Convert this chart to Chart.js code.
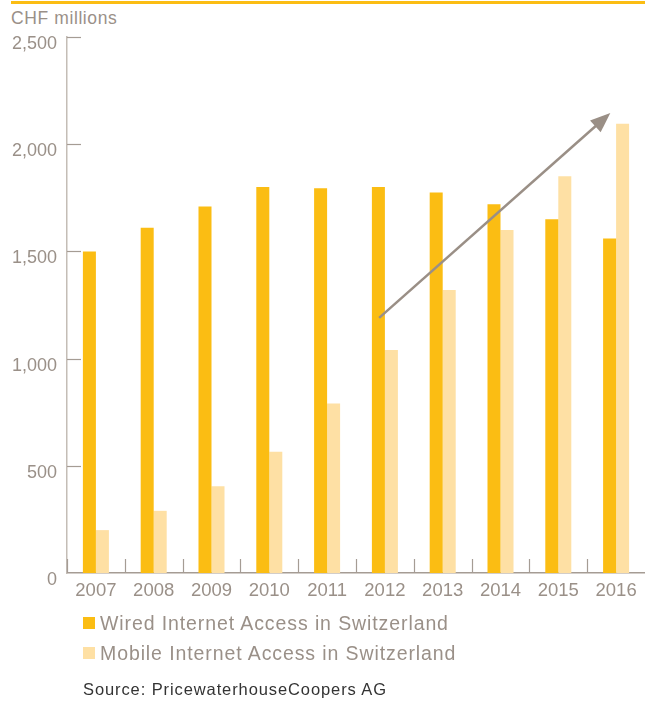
<!DOCTYPE html>
<html>
<head>
<meta charset="utf-8">
<script src="https://cdn.jsdelivr.net/npm/chart.js@4.4.1/dist/chart.umd.min.js"></script>
<style>
  body { margin: 0; background: #fff; font-family: "Liberation Sans", Arial, sans-serif; }
  #wrap { position: relative; width: 645px; height: 702px; overflow: hidden; }
  #topline { position: absolute; left: 11px; top: 1px; width: 634px; height: 3px; background: #fbbd13; }
  #unit { position: absolute; left: 11px; top: 8px; font-size: 17.5px; letter-spacing: 0.6px; color: #9a9088; }
  #chartBox { position: absolute; left: 0; top: 0; width: 645px; height: 702px; }
  .leg { position: absolute; left: 83px; font-size: 19.5px; letter-spacing: 0.9px; color: #9a9088; white-space: nowrap; }
  .leg span { display: inline-block; width: 12px; height: 12px; margin-right: 5px; vertical-align: 1px; }
  #source { position: absolute; left: 83px; top: 680px; font-size: 16.5px; letter-spacing: 0.9px; color: #333; }
</style>
</head>
<body>
<div id="wrap">
  <div id="topline"></div>
  <div id="unit">CHF millions</div>
  <div id="chartBox"><canvas id="chart"></canvas></div>
  <div class="leg" style="top:612px"><span style="background:#fbbd13"></span>Wired Internet Access in Switzerland</div>
  <div class="leg" style="top:642px"><span style="background:#fee0a4"></span>Mobile Internet Access in Switzerland</div>
  <div id="source">Source: PricewaterhouseCoopers AG</div>
</div>
<script>
// data
const years = ["2007","2008","2009","2010","2011","2012","2013","2014","2015","2016"];
const wired = [1500, 1610, 1710, 1800, 1795, 1800, 1775, 1720, 1650, 1560];
const mobile = [200, 290, 405, 565, 790, 1040, 1320, 1600, 1850, 2095];
const yTicks = [0, 500, 1000, 1500, 2000, 2500];
// trend arrow: [category index, value] start and tip
const arrowFrom = [4.9, 1190];
const arrowTo = [8.9, 2145];

const WIRED = "#fbbd13";
const MOBILE = "#fee0a4";
const AXIS = "#a59c94";
const TEXT = "#9a9088";

// short ticks drawn inside the plot area, plus the trend arrow
const extras = {
  id: "extras",
  afterDatasetsDraw(chart) {
    const ctx = chart.ctx;
    const x = chart.scales.x;
    const y = chart.scales.y;
    const area = chart.chartArea;
    ctx.save();
    ctx.strokeStyle = AXIS;
    ctx.lineWidth = 1.2;
    // y ticks
    y.ticks.forEach(t => {
      if (t.value === 0) return;
      const py = Math.round(y.getPixelForValue(t.value)) + 0.5;
      ctx.beginPath();
      ctx.moveTo(area.left, py);
      ctx.lineTo(area.left + 14, py);
      ctx.stroke();
    });
    // x category boundaries
    const w = x.getPixelForTick(1) - x.getPixelForTick(0);
    for (let i = 0; i < years.length; i++) {
      const px = Math.round(x.getPixelForTick(i) - w / 2) + 0.5;
      ctx.beginPath();
      ctx.moveTo(px, area.bottom);
      ctx.lineTo(px, area.bottom - 14);
      ctx.stroke();
    }
    // arrow
    const x0 = x.getPixelForValue(arrowFrom[0]);
    const y0 = y.getPixelForValue(arrowFrom[1]);
    const x1 = x.getPixelForValue(arrowTo[0]);
    const y1 = y.getPixelForValue(arrowTo[1]);
    const ang = Math.atan2(y1 - y0, x1 - x0);
    const head = 20, half = 8;
    const bx = x1 - head * Math.cos(ang);
    const by = y1 - head * Math.sin(ang);
    ctx.strokeStyle = "#9a8f86";
    ctx.fillStyle = "#9a8f86";
    ctx.lineWidth = 2.5;
    ctx.beginPath();
    ctx.moveTo(x0, y0);
    ctx.lineTo(bx + 2 * Math.cos(ang), by + 2 * Math.sin(ang));
    ctx.stroke();
    ctx.beginPath();
    ctx.moveTo(x1, y1);
    ctx.lineTo(bx - half * Math.sin(ang), by + half * Math.cos(ang));
    ctx.lineTo(bx + half * Math.sin(ang), by - half * Math.cos(ang));
    ctx.closePath();
    ctx.fill();
    ctx.restore();
  }
};

new Chart(document.getElementById("chart"), {
  type: "bar",
  data: {
    labels: years,
    datasets: [
      { label: "Wired Internet Access in Switzerland", data: wired, backgroundColor: WIRED,
        barPercentage: 1, categoryPercentage: 0.45 },
      { label: "Mobile Internet Access in Switzerland", data: mobile, backgroundColor: MOBILE,
        barPercentage: 1, categoryPercentage: 0.45 }
    ]
  },
  options: {
    responsive: true,
    maintainAspectRatio: false,
    animation: false,
    layout: { padding: { left: 0, top: 37, right: 0, bottom: 99 } },
    plugins: { legend: { display: false }, tooltip: { enabled: false } },
    scales: {
      x: {
        grid: { display: false, drawTicks: false },
        border: { color: AXIS, width: 1.5 },
        ticks: { color: TEXT, font: { family: "Liberation Sans", size: 18.5 }, padding: 7, maxRotation: 0 },
        afterFit(s) { s.height = 30; }
      },
      y: {
        min: 0, max: 2500,
        afterBuildTicks(s) { s.ticks = yTicks.map(v => ({ value: v })); },
        grid: { display: false, drawTicks: false },
        border: { color: "#c4bdb6", width: 1.5 },
        ticks: {
          color: TEXT, font: { family: "Liberation Sans", size: 18 }, padding: 10, labelOffset: 7,
          callback: v => v.toLocaleString("en-US")
        },
        afterFit(s) { s.width = 67; }
      }
    }
  },
  plugins: [extras]
});
</script>
</body>
</html>
